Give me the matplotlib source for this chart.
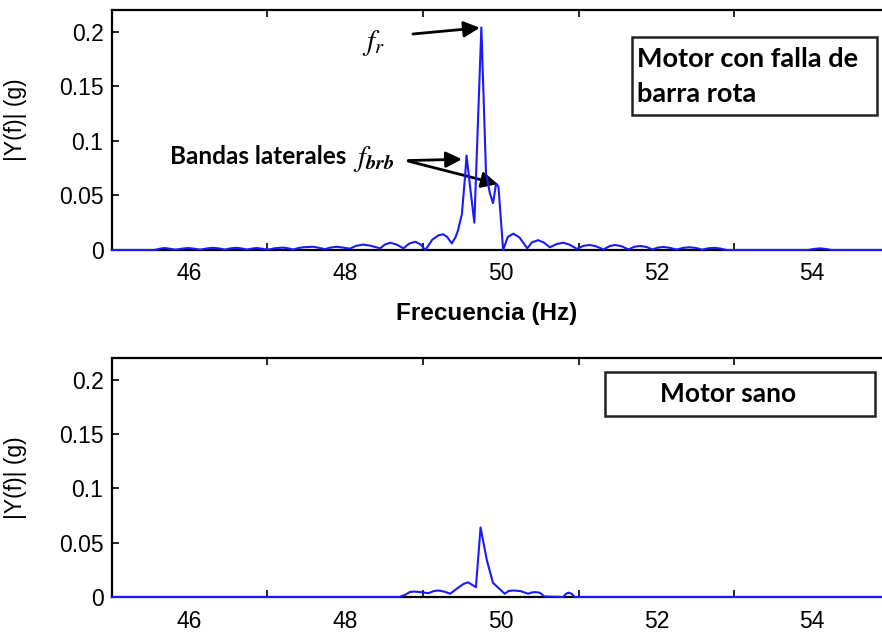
import matplotlib
matplotlib.use('Agg')
import matplotlib.pyplot as plt
from matplotlib.patches import Rectangle

plt.rcParams['font.family'] = ['Liberation Sans', 'DejaVu Sans']
plt.rcParams['mathtext.fontset'] = 'stix'

# ================= Data =================
# Motor con falla de barra rota
freq_falla = [45.0, 45.55, 45.62, 45.68, 45.74, 45.82, 45.90, 45.98, 46.06, 46.14,
              46.22, 46.30, 46.38, 46.45, 46.53, 46.60, 46.67, 46.74, 46.80, 46.86,
              46.93, 47.00, 47.10, 47.20, 47.27, 47.33, 47.40, 47.46, 47.52, 47.59,
              47.66, 47.74, 47.81, 47.89, 47.97, 48.06, 48.14, 48.23, 48.32, 48.45,
              48.51, 48.58, 48.66, 48.75, 48.82, 48.90, 48.97, 49.03, 49.12, 49.20,
              49.26, 49.31, 49.37, 49.42, 49.45, 49.50, 49.54, 49.56, 49.61, 49.66,
              49.75, 49.81, 49.86, 49.90, 49.94, 49.97, 50.03, 50.09, 50.16, 50.24,
              50.34, 50.40, 50.48, 50.55, 50.63, 50.72, 50.80, 50.88, 50.98, 51.06,
              51.14, 51.22, 51.32, 51.40, 51.47, 51.55, 51.64, 51.72, 51.79, 51.87,
              51.95, 52.02, 52.09, 52.17, 52.26, 52.35, 52.43, 52.51, 52.59, 52.67,
              52.75, 52.83, 52.90, 53.95, 54.03, 54.10, 54.17, 54.25, 55.0]
amp_falla = [0.0, 0.0, 0.0012, 0.0018, 0.0012, 0.0003, 0.0012, 0.0018, 0.0012, 0.0003,
             0.0014, 0.0020, 0.0014, 0.0004, 0.0015, 0.0020, 0.0014, 0.0004, 0.0013, 0.0018,
             0.0012, 0.0003, 0.0016, 0.0022, 0.0015, 0.0004, 0.0018, 0.0025, 0.0027, 0.0030,
             0.0020, 0.0008, 0.0022, 0.0030, 0.0022, 0.0012, 0.0038, 0.0050, 0.0040, 0.0015,
             0.0050, 0.0067, 0.0050, 0.0015, 0.0058, 0.0076, 0.0050, 0.0, 0.0095, 0.0135,
             0.0144, 0.0120, 0.0060, 0.0120, 0.0180, 0.0330, 0.0670, 0.0865, 0.0550, 0.0250,
             0.2040, 0.0700, 0.0520, 0.0430, 0.0610, 0.0580, 0.0, 0.0120, 0.0150, 0.0115,
             0.0015, 0.0070, 0.0090, 0.0070, 0.0025, 0.0055, 0.0067, 0.0050, 0.0010, 0.0038,
             0.0046, 0.0035, 0.0005, 0.0036, 0.0046, 0.0035, 0.0005, 0.0030, 0.0037, 0.0028,
             0.0005, 0.0022, 0.0028, 0.0020, 0.0004, 0.0020, 0.0025, 0.0018, 0.0003, 0.0016,
             0.0020, 0.0012, 0.0, 0.0, 0.0010, 0.0015, 0.0010, 0.0, 0.0]

# Motor sano
freq_sano = [45.0, 48.70, 48.77, 48.83, 48.88, 48.97, 49.07, 49.14, 49.20, 49.27,
             49.35, 49.45, 49.52, 49.58, 49.68, 49.74, 49.82, 49.90, 50.05, 50.10,
             50.16, 50.25, 50.35, 50.40, 50.44, 50.50, 50.56, 50.80, 50.84, 50.87,
             50.91, 50.95, 55.0]
amp_sano = [0.0, 0.0, 0.0020, 0.0045, 0.0050, 0.0045, 0.0035, 0.0055, 0.0060, 0.0050,
            0.0030, 0.0085, 0.0120, 0.0135, 0.0090, 0.0640, 0.0340, 0.0130, 0.0030, 0.0055,
            0.0060, 0.0055, 0.0030, 0.0042, 0.0045, 0.0040, 0.0005, 0.0, 0.0030, 0.0040,
            0.0030, 0.0, 0.0]

xtick_vals = [46, 48, 50, 52, 54]
xtick_minor = [47, 49, 51, 53]
ytick_vals = [0, 0.05, 0.1, 0.15, 0.2]
ytick_labels = ['0', '0.05', '0.1', '0.15', '0.2']

W, H = 882, 633
LINE_COLOR = '#1a1aff'
BOLD_FONT = ['Lato', 'DejaVu Sans']

fig = plt.figure(figsize=(W / 100, H / 100), dpi=100)


def px_axes(left, top, right, bottom):
    return fig.add_axes([left / W, 1 - bottom / H, (right - left) / W, (bottom - top) / H])


def style_axes(ax):
    ax.set_xlim(45, 55)
    ax.set_ylim(0, 0.22)
    ax.set_xticks(xtick_vals)
    ax.set_xticks(xtick_minor, minor=True)
    ax.set_yticks(ytick_vals)
    ax.set_yticklabels(ytick_labels)
    ax.tick_params(axis='x', which='major', length=0, pad=9, labelsize=16.5)
    ax.tick_params(axis='x', which='minor', direction='in', length=5, width=1.2,
                   top=True, bottom=True)
    ax.tick_params(axis='y', direction='in', length=5, width=1.2, right=True,
                   pad=6, labelsize=16.5)
    for sp in ax.spines.values():
        sp.set_linewidth(1.6)
    ax.set_ylabel('|Y(f)| (g)', fontsize=16.5)


# ---- top panel ----
ax1 = px_axes(111.8, 10, 889.8, 250)
ax1.plot(freq_falla, amp_falla, color=LINE_COLOR, lw=1.5, zorder=5, clip_on=False)
style_axes(ax1)
ax1.yaxis.set_label_coords((27 - 111.8) / 778, (250 - 120) / 240)
ax1.set_xlabel('Frecuencia (Hz)', fontsize=17.5, fontweight='bold')
ax1.xaxis.set_label_coords((487 - 111.8) / 778, -(302 - 250) / 240)

arrow = dict(arrowstyle='-|>', color='black', lw=2, mutation_scale=24,
             shrinkA=0, shrinkB=0)
ax1.annotate('', xy=(49.73, 0.2037), xytext=(48.87, 0.198), arrowprops=arrow)
ax1.annotate('', xy=(49.50, 0.0832), xytext=(48.81, 0.0820), arrowprops=arrow)
ax1.annotate('', xy=(49.96, 0.0605), xytext=(48.81, 0.0815), arrowprops=arrow)

ax1.text(48.36, 0.190, r'$f_r$', fontsize=21, ha='center', va='center')
ax1.text(48.01, 0.0855, 'Bandas laterales', fontsize=17.5, fontweight='bold',
         family=BOLD_FONT, ha='right', va='center')
ax1.text(48.10, 0.0835, r'$f_{\mathbfit{brb}}$', fontsize=21, ha='left', va='center')

# ---- bottom panel ----
ax2 = px_axes(111.8, 358, 889.8, 597)
ax2.plot(freq_sano, amp_sano, color=LINE_COLOR, lw=1.5, zorder=5, clip_on=False)
style_axes(ax2)
ax2.yaxis.set_label_coords((27 - 111.8) / 778, (597 - 478) / 239)

# ---- label boxes ----
fig.patches.append(Rectangle((632 / W, 1 - 115 / H), 245 / W, 78 / H,
                             transform=fig.transFigure, fill=False,
                             edgecolor='#222222', lw=1.8))
fig.text(637 / W, 1 - 67 / H, 'Motor con falla de', fontsize=19.5, fontweight='bold',
         family=BOLD_FONT, va='baseline')
fig.text(637 / W, 1 - 102 / H, 'barra rota', fontsize=19.5, fontweight='bold',
         family=BOLD_FONT, va='baseline')

fig.patches.append(Rectangle((605 / W, 1 - 416 / H), 270 / W, 44 / H,
                             transform=fig.transFigure, fill=False,
                             edgecolor='#222222', lw=1.8))
fig.text(728 / W, 1 - 394 / H, 'Motor sano', fontsize=19, fontweight='bold',
         family=BOLD_FONT, ha='center', va='center')

fig.savefig('out.png', dpi=100)
